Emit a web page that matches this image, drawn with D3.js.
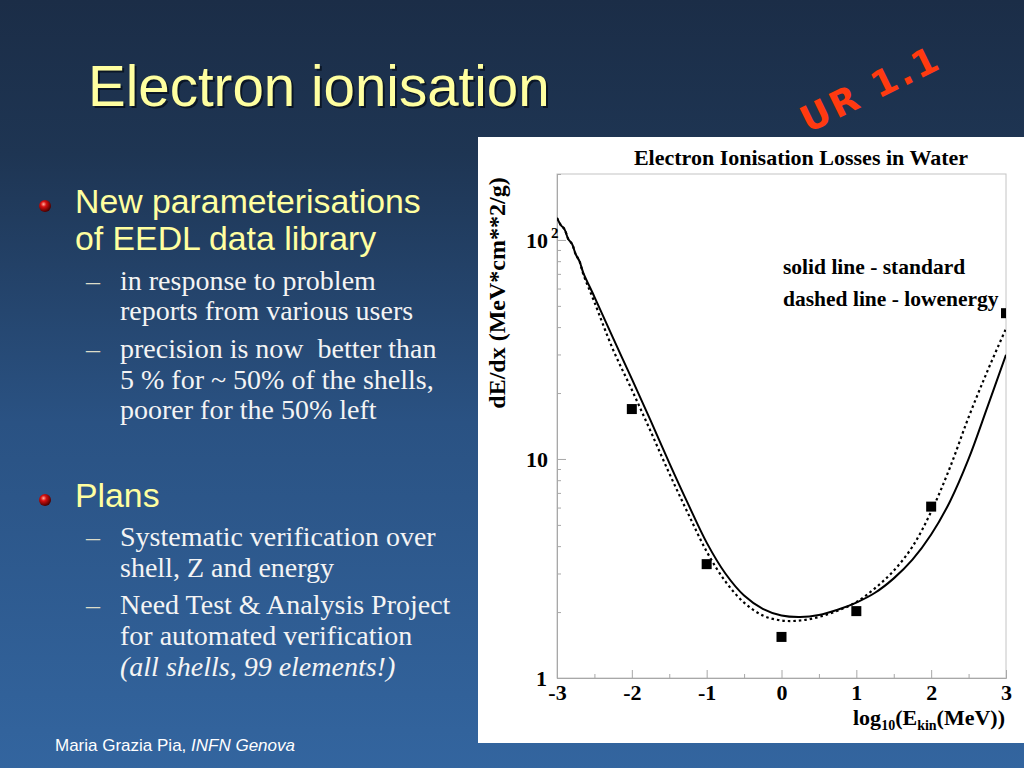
<!DOCTYPE html>
<html>
<head>
<meta charset="utf-8">
<script src="https://cdn.jsdelivr.net/npm/d3@7"></script>
<style>
  html, body { margin: 0; padding: 0; background: #1c2f4a; }
  svg { display: block; }
</style>
</head>
<body>
<svg id="slide" width="1024" height="768"></svg>
<script>
// log10(E kin / MeV) grid for the two model curves
const energyGrid = [-3, -2.95, -2.9, -2.85, -2.8, -2.75, -2.7, -2.65, -2.5, -2.25, -2, -1.75, -1.5, -1.25, -1,
  -0.75, -0.5, -0.25, 0, 0.25, 0.5, 0.75, 1, 1.25, 1.5, 1.75, 2, 2.25, 2.5, 2.75, 3];
const standardValues = [126, 117, 112, 101, 96, 86, 80, 71, 55, 35.6, 23.2, 15.0, 9.6, 6.25, 4.15,
  3.0, 2.38, 2.07, 1.93, 1.90, 1.94, 2.05, 2.21, 2.45, 2.85, 3.47, 4.52, 6.38, 10.0, 17.2, 29.9];
const lowenergyValues = [126, 117, 112, 101, 96, 86, 80, 70, 52, 31.5, 20.7, 13.4, 8.6, 5.65, 3.78,
  2.76, 2.21, 1.93, 1.83, 1.83, 1.90, 2.03, 2.22, 2.57, 3.09, 3.98, 5.75, 9.12, 15.5, 25.1, 39.4];

// reference points (squares)
const pointEnergy = [-2, -1, 0, 1, 2, 3];
const pointValues = [16.9, 3.31, 1.54, 2.02, 6.06, 46.3];

const xTicks = [-3, -2, -1, 0, 1, 2, 3];
const xMinorTicks = [-2.5, -1.5, -0.5, 0.5, 1.5, 2.5];
const yTicks = [1, 10, 100];
const yMinorTicks = [2, 3, 4, 5, 6, 7, 8, 9, 20, 30, 40, 50, 60, 70, 80, 90, 200];

const svg = d3.select('#slide');
const defs = svg.append('defs');

// Slide background
const bg = defs.append('linearGradient').attr('id', 'bg').attr('x1', 0).attr('y1', 0).attr('x2', 0).attr('y2', 1);
bg.append('stop').attr('offset', '0').attr('stop-color', '#1b2d47');
bg.append('stop').attr('offset', '0.2').attr('stop-color', '#1e3553');
bg.append('stop').attr('offset', '0.55').attr('stop-color', '#2a5283');
bg.append('stop').attr('offset', '1').attr('stop-color', '#33659f');
svg.append('rect').attr('width', 1024).attr('height', 768).attr('fill', 'url(#bg)');

const ball = defs.append('radialGradient').attr('id', 'ball').attr('cx', '0.38').attr('cy', '0.35').attr('r', '0.65');
ball.append('stop').attr('offset', '0').attr('stop-color', '#ffb0a0');
ball.append('stop').attr('offset', '0.35').attr('stop-color', '#d81010');
ball.append('stop').attr('offset', '1').attr('stop-color', '#4a0000');

// Title
svg.append('text').attr('x', 90).attr('y', 108)
  .attr('font-family', 'Liberation Sans, Arial, sans-serif').attr('font-size', 56.5)
  .attr('fill', '#0b1626').text('Electron ionisation');
svg.append('text').attr('x', 88).attr('y', 106)
  .attr('font-family', 'Liberation Sans, Arial, sans-serif').attr('font-size', 56.5)
  .attr('fill', '#ffffa0').text('Electron ionisation');

svg.append('text')
  .attr('transform', 'translate(876,100) rotate(-26)')
  .attr('text-anchor', 'middle')
  .attr('font-family', 'DejaVu Sans, sans-serif').attr('font-weight', 'bold')
  .attr('font-size', 36).attr('letter-spacing', 3)
  .attr('fill', '#ff3a10').text('UR 1.1');

// Bullet text on the left
const mainFont = 'Liberation Sans, Arial, sans-serif';
const subFont = 'Liberation Serif, Times New Roman, serif';

const bullets = [
  { y: 206, lines: [[213, 'New parameterisations'], [250, 'of EEDL data library']] },
  { y: 500, lines: [[507, 'Plans']] },
];
const subItems = [
  { lines: [[290, 'in response to problem'], [320, 'reports from various users']] },
  { lines: [[358, 'precision is now  better than'], [389, '5 % for ~ 50% of the shells,'], [419, 'poorer for the 50% left']] },
  { lines: [[546, 'Systematic verification over'], [577, 'shell, Z and energy']] },
  { lines: [[614, 'Need Test & Analysis Project'], [645, 'for automated verification'], [676, '(all shells, 99 elements!)', true]] },
];

bullets.forEach(b => {
  svg.append('circle').attr('cx', 45).attr('cy', b.y).attr('r', 6).attr('fill', 'url(#ball)');
  b.lines.forEach(([y, t]) => {
    svg.append('text').attr('x', 75).attr('y', y)
      .attr('font-family', mainFont).attr('font-size', 33.8)
      .attr('fill', '#ffffa0').text(t);
  });
});

subItems.forEach(s => {
  svg.append('text').attr('x', 86).attr('y', s.lines[0][0])
    .attr('font-family', subFont).attr('font-size', 28)
    .attr('fill', '#dcdcc8').text('–');
  s.lines.forEach(([y, t, it]) => {
    svg.append('text').attr('x', 120).attr('y', y)
      .attr('font-family', subFont).attr('font-size', 28)
      .attr('font-style', it ? 'italic' : 'normal')
      .style('white-space', 'pre')
      .attr('fill', '#f4f4f4').text(t);
  });
});

const footer = svg.append('text').attr('x', 55).attr('y', 751)
  .attr('font-family', mainFont).attr('font-size', 17).attr('fill', '#ffffff');
footer.append('tspan').text('Maria Grazia Pia, ');
footer.append('tspan').attr('font-style', 'italic').text('INFN Genova');

// ---------------- Chart ----------------
svg.append('rect').attr('x', 478).attr('y', 137).attr('width', 546).attr('height', 606).attr('fill', '#ffffff');

const plot = { left: 557, right: 1006, top: 174, bottom: 678 };
const x = d3.scaleLinear().domain([-3, 3]).range([plot.left, plot.right]);
const y = d3.scaleLog().domain([1, 200]).range([plot.bottom, plot.top]);

const serif = 'Liberation Serif, Times New Roman, serif';
const chart = svg.append('g');

chart.append('rect')
  .attr('x', plot.left).attr('y', plot.top)
  .attr('width', plot.right - plot.left).attr('height', plot.bottom - plot.top)
  .attr('fill', 'none').attr('stroke', '#c4c4c4').attr('stroke-width', 1);

function styleAxis(g) {
  g.selectAll('path.domain').attr('stroke', '#a8a8a8');
  g.selectAll('.tick line').attr('stroke', '#a8a8a8');
}

// x axis: major + minor ticks pointing inside
chart.append('g').attr('transform', `translate(0,${plot.bottom})`)
  .call(d3.axisBottom(x).tickValues(xTicks).tickSizeInner(-8).tickSizeOuter(0).tickPadding(6)
    .tickFormat(d => d))
  .call(styleAxis)
  .call(g => g.selectAll('.tick text')
    .attr('font-family', serif).attr('font-weight', 'bold').attr('font-size', 22).attr('fill', '#000'));
chart.append('g').attr('transform', `translate(0,${plot.bottom})`)
  .call(d3.axisBottom(x).tickValues(xMinorTicks).tickSizeInner(-4).tickSizeOuter(0).tickFormat(''))
  .call(styleAxis);

// y axis
chart.append('g').attr('transform', `translate(${plot.left},0)`)
  .call(d3.axisLeft(y).tickValues(yTicks).tickSizeInner(-9).tickSizeOuter(0).tickFormat(''))
  .call(styleAxis);
chart.append('g').attr('transform', `translate(${plot.left},0)`)
  .call(d3.axisLeft(y).tickValues(yMinorTicks).tickSizeInner(-4).tickSizeOuter(0).tickFormat(''))
  .call(styleAxis);

const yLab = chart.append('g').attr('font-family', serif).attr('font-weight', 'bold').attr('font-size', 22);
yLab.append('text').attr('x', 547).attr('y', y(1) + 8).attr('text-anchor', 'end').text('1');
yLab.append('text').attr('x', 548).attr('y', y(10) + 8).attr('text-anchor', 'end').text('10');
yLab.append('text').attr('x', 548).attr('y', y(100) + 8).attr('text-anchor', 'end').text('10');
yLab.append('text').attr('x', 551).attr('y', y(100) - 2).attr('font-size', 15).text('2');

// titles
chart.append('text').attr('x', 801).attr('y', 165).attr('text-anchor', 'middle')
  .attr('font-family', serif).attr('font-weight', 'bold').attr('font-size', 22)
  .text('Electron Ionisation Losses in Water');

chart.append('text').attr('transform', `translate(505,${293}) rotate(-90)`).attr('text-anchor', 'middle')
  .attr('font-family', serif).attr('font-weight', 'bold').attr('font-size', 24)
  .text('dE/dx (MeV*cm**2/g)');

const xt = chart.append('text').attr('x', 1005).attr('y', 725).attr('text-anchor', 'end')
  .attr('font-family', serif).attr('font-weight', 'bold').attr('font-size', 22);
xt.append('tspan').text('log');
xt.append('tspan').attr('font-size', 14).attr('dy', 5).text('10');
xt.append('tspan').attr('dy', -5).text('(E');
xt.append('tspan').attr('font-size', 14).attr('dy', 5).text('kin');
xt.append('tspan').attr('dy', -5).text('(MeV))');

const legend = chart.append('g').attr('font-family', serif).attr('font-weight', 'bold').attr('font-size', 21.5);
legend.append('text').attr('x', 783).attr('y', 274).text('solid line - standard');
legend.append('text').attr('x', 783).attr('y', 306).text('dashed line - lowenergy');

// curves
defs.append('clipPath').attr('id', 'plotclip').append('rect')
  .attr('x', plot.left).attr('y', plot.top)
  .attr('width', plot.right - plot.left).attr('height', plot.bottom - plot.top);
const data = chart.append('g').attr('clip-path', 'url(#plotclip)');

const line = vals => d3.line()
  .x((d, i) => x(energyGrid[i]))
  .y(d => y(d))
  .curve(d3.curveCatmullRom.alpha(0.5))(vals);

data.append('path').attr('d', line(lowenergyValues))
  .attr('fill', 'none').attr('stroke', '#000').attr('stroke-width', 2.2).attr('stroke-dasharray', '2.5,3');
data.append('path').attr('d', line(standardValues))
  .attr('fill', 'none').attr('stroke', '#000').attr('stroke-width', 2);

data.selectAll('rect.pt').data(pointEnergy).enter().append('rect')
  .attr('class', 'pt')
  .attr('x', (d, i) => x(d) - 5).attr('y', (d, i) => y(pointValues[i]) - 5)
  .attr('width', 10).attr('height', 10).attr('fill', '#000');
</script>
</body>
</html>
